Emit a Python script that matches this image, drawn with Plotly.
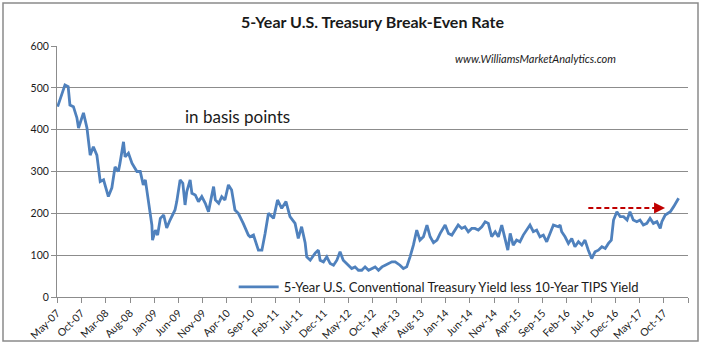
import plotly.graph_objects as go

# ---- data (basis points) ----
dates = [
    "2007-05-05", "2007-06-20", "2007-07-10", "2007-07-21", "2007-08-12", "2007-09-03", "2007-09-13",
    "2007-10-04", "2007-10-14", "2007-11-05", "2007-11-25", "2007-12-15", "2008-01-06", "2008-01-27",
    "2008-02-17", "2008-03-18", "2008-04-09", "2008-04-29", "2008-05-20", "2008-05-30", "2008-06-21",
    "2008-07-01", "2008-07-22", "2008-08-13", "2008-09-13", "2008-10-04", "2008-10-23", "2008-11-05",
    "2008-11-15", "2008-12-16", "2008-12-20", "2009-01-07", "2009-01-21", "2009-02-07", "2009-02-28",
    "2009-03-19", "2009-04-09", "2009-05-10", "2009-05-21", "2009-06-11", "2009-06-28", "2009-07-12",
    "2009-07-23", "2009-08-13", "2009-08-24", "2009-09-14", "2009-10-04", "2009-10-25", "2009-11-16",
    "2009-12-06", "2009-12-17", "2010-01-07", "2010-01-18", "2010-02-08", "2010-02-27", "2010-03-19",
    "2010-04-10", "2010-04-30", "2010-05-21", "2010-06-11", "2010-07-12", "2010-08-13", "2010-08-24",
    "2010-09-14", "2010-10-15", "2010-11-06", "2010-11-26", "2010-12-17", "2011-01-18", "2011-02-12",
    "2011-03-10", "2011-04-06", "2011-05-01", "2011-06-02", "2011-06-22", "2011-07-13", "2011-08-04",
    "2011-08-14", "2011-09-05", "2011-10-06", "2011-10-26", "2011-11-06", "2011-11-27", "2011-12-18",
    "2012-01-08", "2012-01-29", "2012-02-19", "2012-03-10", "2012-03-30", "2012-04-21", "2012-05-22",
    "2012-06-12", "2012-07-03", "2012-07-24", "2012-08-14", "2012-09-05", "2012-09-26", "2012-10-16",
    "2012-11-06", "2012-11-28", "2012-12-18", "2013-01-08", "2013-01-29", "2013-02-19", "2013-03-21",
    "2013-04-11", "2013-05-02", "2013-05-23", "2013-06-13", "2013-07-04", "2013-07-24", "2013-08-15",
    "2013-09-06", "2013-09-26", "2013-10-17", "2013-11-08", "2013-11-28", "2013-12-29", "2014-01-19",
    "2014-02-09", "2014-03-01", "2014-03-21", "2014-04-12", "2014-05-02", "2014-05-23", "2014-06-14",
    "2014-07-04", "2014-07-25", "2014-08-16", "2014-09-06", "2014-09-26", "2014-10-17", "2014-11-08",
    "2014-11-28", "2014-12-19", "2015-01-09", "2015-01-26", "2015-02-10", "2015-03-01", "2015-03-22",
    "2015-04-12", "2015-05-03", "2015-05-24", "2015-06-14", "2015-07-05", "2015-07-26", "2015-08-16",
    "2015-09-06", "2015-09-27", "2015-10-18", "2015-11-08", "2015-12-09", "2015-12-20", "2015-12-30",
    "2016-01-20", "2016-02-10", "2016-03-02", "2016-03-22", "2016-04-13", "2016-05-04", "2016-05-24",
    "2016-06-14", "2016-07-05", "2016-07-26", "2016-08-16", "2016-09-07", "2016-09-28", "2016-10-18",
    "2016-11-05", "2016-11-19", "2016-12-10", "2016-12-31", "2017-01-21", "2017-02-12", "2017-03-02",
    "2017-03-23", "2017-04-14", "2017-05-04", "2017-05-25", "2017-06-16", "2017-07-06", "2017-07-27",
    "2017-08-18", "2017-09-08", "2017-09-18", "2017-10-09", "2017-11-10", "2017-12-01", "2018-01-01",
]
breakeven_bp = [
    455, 507, 503, 459, 455, 428, 404,
    431, 440, 404, 339, 359, 339, 276,
    280, 240, 261, 311, 300, 320, 371,
    335, 344, 320, 300, 300, 268, 280,
    252, 172, 136, 160, 148, 188, 196,
    165, 184, 208, 228, 280, 272, 220,
    252, 280, 248, 244, 228, 240, 224,
    204, 225, 264, 232, 224, 240, 232,
    268, 256, 208, 200, 176, 148, 144,
    148, 112, 112, 152, 200, 188, 232,
    212, 228, 192, 176, 140, 168, 130,
    96, 88, 105, 112, 88, 84, 96,
    80, 76, 88, 108, 88, 80, 68,
    72, 64, 64, 72, 64, 68, 72,
    64, 72, 76, 80, 84, 84, 76,
    68, 72, 96, 124, 160, 136, 144,
    172, 144, 130, 136, 152, 172, 152,
    148, 160, 172, 164, 168, 156, 164,
    164, 160, 168, 180, 176, 144, 156,
    144, 172, 140, 112, 152, 124, 136,
    132, 148, 160, 172, 156, 160, 144,
    148, 132, 152, 172, 168, 172, 156,
    144, 128, 140, 120, 132, 124, 136,
    112, 92, 108, 112, 120, 116, 128,
    136, 184, 204, 192, 192, 184, 204,
    184, 180, 184, 172, 176, 188, 176,
    180, 164, 180, 196, 204, 216, 236,
]

tick_dates = [
    "2007-05-01", "2007-10-01", "2008-03-01", "2008-08-01", "2009-01-01", "2009-06-01",
    "2009-11-01", "2010-04-01", "2010-09-01", "2011-02-01", "2011-07-01", "2011-12-01",
    "2012-05-01", "2012-10-01", "2013-03-01", "2013-08-01", "2014-01-01", "2014-06-01",
    "2014-11-01", "2015-04-01", "2015-09-01", "2016-02-01", "2016-07-01", "2016-12-01",
    "2017-05-01", "2017-10-01", "2018-03-01",
]
tick_labels = [
    "May-07", "Oct-07", "Mar-08", "Aug-08", "Jan-09", "Jun-09", "Nov-09", "Apr-10",
    "Sep-10", "Feb-11", "Jul-11", "Dec-11", "May-12", "Oct-12", "Mar-13", "Aug-13",
    "Jan-14", "Jun-14", "Nov-14", "Apr-15", "Sep-15", "Feb-16", "Jul-16", "Dec-16",
    "May-17", "Oct-17", "",
]
y_ticks = [0, 100, 200, 300, 400, 500, 600]

FONT = "Lato"
BLUE = "#4F81BD"
GRID = "#8C8C8C"
RED = "#C00000"

fig = go.Figure()
fig.add_trace(go.Scatter(
    x=dates, y=breakeven_bp, mode="lines",
    name="5-Year U.S. Conventional Treasury Yield less 10-Year TIPS Yield",
    line=dict(color=BLUE, width=2.8),
))

fig.update_layout(
    width=706, height=345,
    margin=dict(l=57, r=18, t=46, b=48),
    paper_bgcolor="white", plot_bgcolor="white",
    font=dict(family=FONT, color="#1a1a1a", size=10),
    title=dict(text="<b>5-Year U.S. Treasury Break-Even Rate</b>",
               x=0.5, xref="paper", xanchor="center", y=0.935, yanchor="middle",
               font=dict(family=FONT, size=16, color="#1a1a1a")),
    showlegend=True,
    legend=dict(x=0.28, y=0.04, xanchor="left", yanchor="middle",
                bgcolor="rgba(0,0,0,0)", font=dict(family=FONT, size=13, color="#1a1a1a"),
                itemwidth=40),
    xaxis=dict(
        type="date", automargin=False,
        range=["2007-05-01", "2018-03-01"],
        tickvals=tick_dates, ticktext=tick_labels,
        tickangle=-45, ticks="outside", ticklen=5, tickcolor=GRID,
        showline=True, linecolor=GRID, linewidth=1,
        showgrid=False, zeroline=False,
        tickfont=dict(family=FONT, size=10.5, color="#1a1a1a"),
    ),
    yaxis=dict(
        automargin=False,
        range=[0, 600], tickvals=y_ticks,
        ticks="outside", ticklen=5, tickcolor=GRID,
        showline=True, linecolor=GRID, linewidth=1,
        showgrid=True, gridcolor=GRID, gridwidth=1, zeroline=False,
        tickfont=dict(family=FONT, size=10.5, color="#1a1a1a"),
    ),
)

# dashed red arrow
fig.add_shape(type="line", xref="x", yref="y",
              x0="2016-06-14", x1="2017-09-12", y0=213, y1=213,
              line=dict(color=RED, width=2, dash="5px,3px"))
fig.add_annotation(x="2017-10-08", y=213, ax=-14, ay=0,
                   xref="x", yref="y",
                   text="", showarrow=True, arrowhead=2, arrowsize=1.1,
                   arrowwidth=2, arrowcolor=RED)

# text annotations (positions given in pixels, converted below)
fig.add_annotation(x=183, y=116, xref="paper", yref="paper", text="in basis points",
                   showarrow=False, xanchor="left", yanchor="middle",
                   font=dict(family=FONT, size=17, color="#1a1a1a"))
fig.add_annotation(x=453, y=59, xref="paper", yref="paper",
                   text="<i>www.WilliamsMarketAnalytics.com</i>",
                   showarrow=False, xanchor="left", yanchor="middle",
                   font=dict(family=FONT, size=11, color="#1a1a1a"))

L, R, T, B = 57, 688, 46, 297
for ann in fig.layout.annotations[1:]:
    ann.x = (ann.x - L) / (R - L)
    ann.y = (B - ann.y) / (B - T)

# outer frame
fig.add_shape(type="rect", xref="paper", yref="paper",
              x0=(3 - L) / (R - L), x1=(698 - L) / (R - L),
              y0=(B - 341) / (B - T), y1=(B - 3) / (B - T),
              line=dict(color="#8a8a8a", width=1.5), fillcolor="rgba(0,0,0,0)",
              layer="below")

fig.write_html("out.html")
